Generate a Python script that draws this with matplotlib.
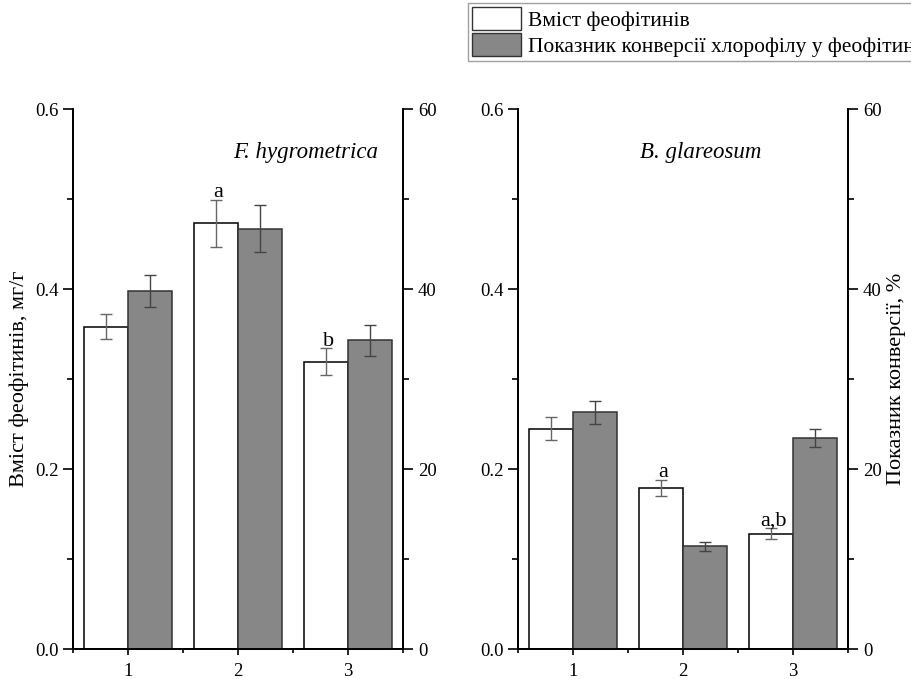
import matplotlib
matplotlib.use("Agg")
import matplotlib.pyplot as plt
from matplotlib.patches import Patch
from matplotlib.ticker import MultipleLocator, FormatStrFormatter
import numpy as np

plt.rcParams['font.family'] = ['Liberation Serif', 'DejaVu Serif']

# data
groups = [1, 2, 3]
species = ["F. hygrometrica", "B. glareosum"]
# pheophytin content, mg/g (left axis)
pheo = [[0.358, 0.473, 0.319],
        [0.245, 0.179, 0.128]]
pheo_err = [[0.014, 0.026, 0.015],
            [0.013, 0.009, 0.006]]
# conversion index, % (right axis)
conv = [[39.8, 46.7, 34.3],
        [26.3, 11.4, 23.5]]
conv_err = [[1.75, 2.6, 1.7],
            [1.3, 0.5, 1.0]]
# significance letters over the white bars
marks = [["", "a", "b"],
         ["", "a", "a,b"]]

legend_labels = ["Вміст феофітинів", "Показник конверсії хлорофілу у феофітини"]
ylabel_left = "Вміст феофітинів, мг/г"
ylabel_right = "Показник конверсії, %"

white = "white"
grey = "#878787"
fs = 13

fig = plt.figure(figsize=(9.11, 6.79), dpi=100)
lefts = [73 / 911, 518 / 911]
width = 0.3625
bottom = 1 - 649 / 679
height = (649 - 109) / 679

x = np.array(groups, dtype=float)
bw = 0.4

for k in range(2):
    ax = fig.add_axes([lefts[k], bottom, width, height])
    ax2 = ax.twinx()

    ax.bar(x - bw / 2, pheo[k], bw, color=white, edgecolor="black", linewidth=1.1, zorder=2)
    ax.errorbar(x - bw / 2, pheo[k], yerr=pheo_err[k], fmt="none", ecolor="#666666",
                elinewidth=1.0, capsize=4, capthick=1.0, zorder=3)
    ax2.bar(x + bw / 2, conv[k], bw, color=grey, edgecolor="#333333", linewidth=1.1, zorder=2)
    ax2.errorbar(x + bw / 2, conv[k], yerr=conv_err[k], fmt="none", ecolor="#444444",
                 elinewidth=1.0, capsize=4, capthick=1.0, zorder=3)

    for i in range(3):
        if marks[k][i]:
            ax.text(x[i] - bw / 2 + 0.02, pheo[k][i] + pheo_err[k][i] + 0.003, marks[k][i],
                    ha="center", va="baseline", fontsize=16)

    ax.set_xlim(0.5, 3.5)
    ax.set_ylim(0, 0.6)
    ax2.set_ylim(0, 60)
    ax.set_xticks(groups)
    ax.xaxis.set_minor_locator(MultipleLocator(0.5))
    ax.yaxis.set_major_locator(MultipleLocator(0.2))
    ax.yaxis.set_minor_locator(MultipleLocator(0.1))
    ax.yaxis.set_major_formatter(FormatStrFormatter("%.1f"))
    ax2.yaxis.set_major_locator(MultipleLocator(20))
    ax2.yaxis.set_minor_locator(MultipleLocator(10))

    for a in (ax, ax2):
        a.spines["top"].set_visible(False)
        for s in a.spines.values():
            s.set_linewidth(1.3)
        a.tick_params(which="major", direction="out", length=7, width=1.2, labelsize=fs + 0.5)
        a.tick_params(which="minor", direction="out", length=4, width=1.2)
    ax.tick_params(axis="x", which="major", length=4, pad=6)
    ax.tick_params(axis="x", which="minor", length=3)

    if k == 0:
        ax.text(0.924, 0.92, species[k], transform=ax.transAxes, ha="right", va="center",
                style="italic", fontsize=16.5)
        ax.set_ylabel(ylabel_left, fontsize=16, labelpad=4)
    else:
        ax.text(0.553, 0.92, species[k], transform=ax.transAxes, ha="center", va="center",
                style="italic", fontsize=16.5)
        ax2.set_ylabel(ylabel_right, fontsize=16, labelpad=4)

handles = [Patch(facecolor=white, edgecolor="#333333", linewidth=1.0),
           Patch(facecolor=grey, edgecolor="#333333", linewidth=1.0)]
leg = fig.legend(handles, legend_labels, loc="lower left",
                 bbox_to_anchor=(468 / 911, 1 - 61 / 679), fontsize=15.5,
                 frameon=True, fancybox=False, edgecolor="#888888",
                 handlelength=2.25, handleheight=1.25, handletextpad=0.35,
                 labelspacing=0.1, borderpad=0.2, borderaxespad=0)
leg.get_frame().set_linewidth(1.0)

plt.savefig("out.png", dpi=100)
